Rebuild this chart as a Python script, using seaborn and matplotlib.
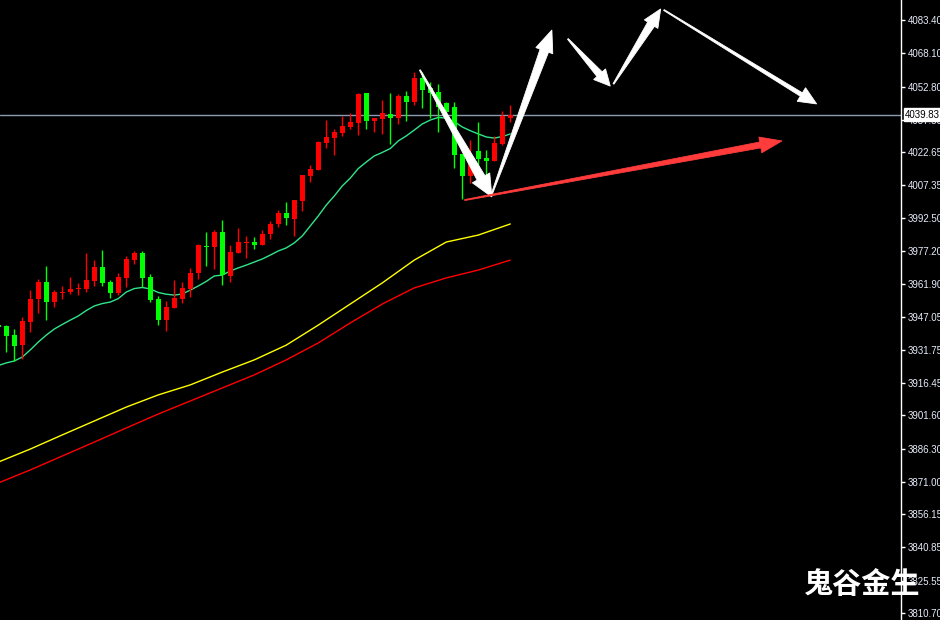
import numpy as np
import pandas as pd
import matplotlib
matplotlib.use("Agg")
import matplotlib.pyplot as plt
import matplotlib.transforms as mtrans
from matplotlib.patches import Polygon
import seaborn as sns

# ---- candle data (bar index, OHLC) ----
bar_index = list(range(-1, 64))
opens = [3943.1, 3942.7, 3938.5, 3933.9, 3944.5, 3955.1, 3962.9, 3953.7, 3958.0, 3958.3,
         3959.6, 3959.7, 3963.4, 3969.8, 3962.9, 3957.9, 3964.8, 3973.0, 3976.3, 3965.2,
         3955.1, 3945.4, 3951.0, 3955.1, 3959.7, 3967.1, 3979.5, 3979.0, 3985.9, 3965.7,
         3976.3, 3980.9, 3981.3, 3979.9, 3985.0, 3989.6, 3994.7, 3991.9, 4000.2, 4011.7,
         4014.4, 4026.8, 4029.1, 4031.4, 4034.2, 4036.0, 4049.8, 4037.0, 4037.9, 4040.2,
         4038.3, 4048.5, 4045.7, 4056.7, 4052.1, 4050.3, 4045.2, 4043.4, 4021.8, 4011.7,
         4023.2, 4019.9, 4018.6, 4026.4, 4038.5]
highs = [3944.5, 3943.1, 3941.3, 3946.8, 3959.2, 3964.3, 3970.3, 3959.2, 3961.1, 3965.2,
         3962.5, 3976.3, 3973.0, 3977.6, 3963.8, 3967.1, 3974.9, 3977.2, 3977.2, 3966.6,
         3956.5, 3954.2, 3963.8, 3962.9, 3969.4, 3980.4, 3985.9, 3986.8, 3991.4, 3979.9,
         3987.8, 3984.1, 3983.6, 3986.8, 3991.0, 3996.0, 3999.7, 4000.6, 4012.1, 4016.7,
         4027.8, 4037.4, 4033.3, 4039.3, 4040.6, 4049.8, 4049.8, 4038.3, 4046.6, 4049.8,
         4049.4, 4050.8, 4059.5, 4059.5, 4054.9, 4054.0, 4045.7, 4045.7, 4021.8, 4028.2,
         4036.5, 4023.6, 4030.1, 4041.6, 4044.3]
lows = [3940.8, 3930.7, 3926.6, 3927.5, 3939.9, 3948.7, 3945.4, 3951.4, 3955.1, 3957.4,
        3956.9, 3958.3, 3961.1, 3961.1, 3955.6, 3956.9, 3960.6, 3971.2, 3960.6, 3953.7,
        3943.1, 3940.4, 3951.0, 3953.3, 3956.0, 3964.3, 3970.3, 3968.9, 3961.5, 3962.9,
        3976.3, 3974.0, 3978.1, 3979.9, 3982.7, 3988.2, 3989.1, 3984.1, 3995.6, 4008.9,
        4014.4, 4024.5, 4021.3, 4030.1, 4033.3, 4030.5, 4033.3, 4031.9, 4031.0, 4026.4,
        4035.6, 4037.0, 4044.3, 4042.9, 4038.3, 4031.9, 4038.3, 4015.3, 4001.1, 4008.4,
        4009.8, 4009.8, 4018.6, 4025.9, 4036.5]
closes = [3942.2, 3938.1, 3933.5, 3945.0, 3955.1, 3962.9, 3953.7, 3958.3, 3958.5, 3959.7,
          3960.2, 3963.8, 3969.8, 3962.5, 3957.9, 3965.2, 3973.5, 3976.3, 3964.8, 3954.6,
          3945.4, 3951.4, 3955.6, 3960.2, 3967.1, 3979.9, 3979.0, 3985.9, 3966.1, 3976.7,
          3981.3, 3981.3, 3979.9, 3985.0, 3989.6, 3994.7, 3992.4, 4000.6, 4012.1, 4014.9,
          4027.3, 4029.6, 4031.9, 4034.7, 4036.5, 4049.4, 4037.0, 4038.3, 4040.6, 4038.3,
          4048.5, 4045.7, 4056.7, 4051.2, 4049.8, 4043.4, 4041.1, 4021.3, 4011.7, 4019.0,
          4019.5, 4018.6, 4026.8, 4039.3, 4039.83]

# ---- moving averages ----
ma_fast = [3924.5, 3925.7, 3926.6, 3928.4, 3931.7, 3935.3, 3938.5, 3941.3, 3943.4, 3945.4,
           3947.3, 3949.8, 3951.9, 3953.0, 3953.7, 3955.3, 3958.3, 3959.9, 3960.4, 3959.7,
           3958.1, 3957.3, 3956.9, 3957.4, 3959.2, 3961.1, 3963.2, 3965.7, 3966.1, 3968.0,
           3969.4, 3970.7, 3972.1, 3973.5, 3975.3, 3977.2, 3978.6, 3980.9, 3984.1, 3988.7,
           3993.3, 3998.3, 4002.5, 4007.1, 4010.7, 4015.1, 4018.1, 4020.9, 4022.5, 4024.3,
           4027.8, 4030.1, 4032.8, 4035.6, 4037.4, 4038.6, 4038.3, 4036.7, 4034.2, 4032.5,
           4031.0, 4029.6, 4029.1, 4029.8, 4031.0]
slow_index = [-1, 3, 7, 11, 15, 19, 23, 27, 31, 35, 39, 43, 47, 51, 55, 59, 63]
ma_mid = [3880.1, 3886.1, 3892.6, 3899.0, 3905.4, 3911.0, 3915.6, 3921.5, 3927.1, 3933.9,
          3943.1, 3952.8, 3962.5, 3973.0, 3981.3, 3984.5, 3989.6]
ma_slow = [3870.5, 3876.5, 3882.9, 3889.3, 3895.8, 3902.2, 3908.2, 3914.2, 3920.2, 3927.1,
           3934.9, 3944.1, 3952.8, 3960.2, 3964.8, 3968.4, 3973.0]

last_price = 4039.83

# ---- price scale labels ----
tick_values = [4083.40, 4068.10, 4052.80, 4037.50, 4022.65, 4007.35, 3992.50, 3977.20,
               3961.90, 3947.05, 3931.75, 3916.45, 3901.60, 3886.30, 3871.00, 3856.15,
               3840.85, 3825.55, 3810.70]
tick_labels = ["4083.40", "4068.10", "4052.80", "4037.50", "4022.65", "4007.35", "3992.50",
               "3977.20", "3961.90", "3947.05", "3931.75", "3916.45", "3901.60", "3886.30",
               "3871.00", "3856.15", "3840.85", "3825.55", "3810.70"]

# ---- hand-drawn forecast arrows: (start bar, start price, end bar, end price) ----
arrow_paths = [
    (51.7, 4060.4, 60.7, 4002.0),
    (60.6, 4002.5, 68.2, 4078.8),
    (70.2, 4074.7, 75.5, 4053.0),
    (75.9, 4054.0, 81.8, 4088.5),
    (82.2, 4088.0, 101.3, 4044.8),
    (57.3, 4000.6, 96.96, 4027.8),
]
arrow_colors = ["white", "white", "white", "white", "white", "#ff3b3b"]
arrow_shaft = [4.5, 4.5, 3.5, 4.0, 2.0, 3.0]
arrow_head = [10, 9, 8, 8, 8, 8]
arrow_head_len = [22, 22, 16, 18, 18, 22]

sns.set_theme(style="dark", rc={"axes.facecolor": "black", "figure.facecolor": "black",
                                "axes.edgecolor": "white", "axes.grid": False})
plt.rcParams["font.family"] = ["Liberation Sans", "DejaVu Sans"]

W, H = 940, 620
fig = plt.figure(figsize=(W / 100, H / 100), dpi=100)
ax = fig.add_axes([0, 0, 901 / W, 1])
ax.set_facecolor("black")

ax.set_xlim(-0.7875, 111.84)
ax.set_ylim(3807.48, 4092.60)

# moving averages via seaborn
fast_df = pd.DataFrame({"bar": bar_index, "value": ma_fast})
slow_df = pd.DataFrame({"bar": slow_index, "mid": ma_mid, "slow": ma_slow})
sns.lineplot(data=fast_df, x="bar", y="value", ax=ax, color="#2fe58a", lw=1, zorder=2)
sns.lineplot(data=slow_df, x="bar", y="mid", ax=ax, color="#ffff00", lw=1, zorder=2)
sns.lineplot(data=slow_df, x="bar", y="slow", ax=ax, color="#ff0000", lw=1, zorder=2)

# candles
o = np.array(opens); c = np.array(closes)
hi = np.array(highs); lo = np.array(lows)
xs = np.array(bar_index)
cols = np.where(c >= o, "#ff0000", "#00ff00")
ax.vlines(xs, lo, hi, colors=cols, lw=1, zorder=3)
body_h = np.maximum(np.abs(c - o), 0.35)
ax.bar(xs, body_h, bottom=np.minimum(o, c), width=0.62, color=cols, edgecolor=cols,
       lw=0, zorder=4)

# last price line
ax.axhline(last_price, color="#8d9bb2", lw=1, zorder=1)

# axis styling
for side in ["left", "top", "bottom"]:
    ax.spines[side].set_visible(False)
ax.spines["right"].set_color("white")
ax.spines["right"].set_linewidth(1)
ax.set_xticks([])
ax.set_xlabel("")
ax.set_ylabel("")
ax.yaxis.tick_right()
ax.set_yticks(tick_values)
ax.set_yticklabels(tick_labels)
ax.tick_params(axis="y", colors="white", length=3, width=1, direction="out",
               labelsize=7, pad=2, labelcolor="#e6ecfa")

# price tag
blend = mtrans.blended_transform_factory(ax.transAxes, ax.transData)
ax.text(1 + 4 / 901, last_price, "4039.83", transform=blend, ha="left", va="center",
        color="black", fontsize=7, clip_on=False, zorder=10,
        bbox=dict(facecolor="white", edgecolor="white", pad=1.0))

# forecast arrows drawn in pixel space so they keep a fixed shape
fig.canvas.draw()
for (x0, y0, x1, y1), col, sw, hw, hl in zip(arrow_paths, arrow_colors, arrow_shaft,
                                            arrow_head, arrow_head_len):
    p0 = ax.transData.transform((x0, y0))
    p1 = ax.transData.transform((x1, y1))
    d = p1 - p0
    u = d / np.hypot(*d)
    n = np.array([-u[1], u[0]])
    base = p1 - u * hl
    pts = [p0 + n * 0.5, base + n * sw, base + n * hw, p1,
           base - n * hw, base - n * sw, p0 - n * 0.5]
    poly = Polygon(pts, closed=True, transform=mtrans.IdentityTransform(),
                   facecolor=col, edgecolor=col, lw=0.6, zorder=8)
    ax.add_patch(poly)

# watermark
fig.text(862 / W, 1 - 584 / H, "鬼谷金生", color="white", fontsize=21,
         fontweight="bold", ha="center", va="center",
         family=["Noto Sans CJK SC", "DejaVu Sans"], zorder=20)

fig.savefig("out.png", dpi=100, facecolor="black")
